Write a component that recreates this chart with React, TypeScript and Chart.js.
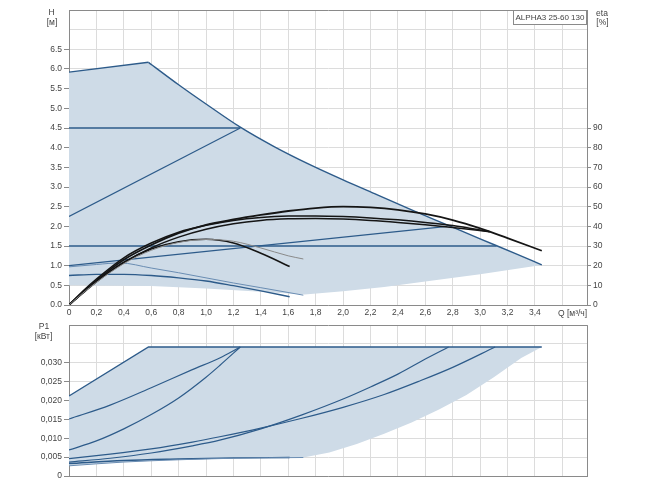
import React, { useEffect, useRef } from 'react';
import { Chart, registerables } from 'chart.js';

Chart.register(...registerables);

type Pt = [number, number];

// ---------- axes ----------
const Q_MAX = 3.78;
const Q_TICKS = [0, 0.2, 0.4, 0.6, 0.8, 1.0, 1.2, 1.4, 1.6, 1.8, 2.0, 2.2, 2.4, 2.6, 2.8, 3.0, 3.2, 3.4, 3.6];
const Q_LABELS = ['0', '0,2', '0,4', '0,6', '0,8', '1,0', '1,2', '1,4', '1,6', '1,8', '2,0', '2,2', '2,4', '2,6', '2,8', '3,0', '3,2', '3,4', ''];
const H_TICKS = [0, 0.5, 1, 1.5, 2, 2.5, 3, 3.5, 4, 4.5, 5, 5.5, 6, 6.5, 7, 7.5];
const H_LABELS = ['0.0', '0.5', '1.0', '1.5', '2.0', '2.5', '3.0', '3.5', '4.0', '4.5', '5.0', '5.5', '6.0', '6.5', '', ''];
const ETA_TICKS = [0, 10, 20, 30, 40, 50, 60, 70, 80, 90];
const ETA_LABELS = ['0', '10', '20', '30', '40', '50', '60', '70', '80', '90'];
const P_TICKS = [0, 0.005, 0.01, 0.015, 0.02, 0.025, 0.03, 0.035, 0.04];
const P_LABELS = ['0', '0,005', '0,010', '0,015', '0,020', '0,025', '0,030', '', ''];

// ---------- H(Q) panel ----------
const hAreaTop: Pt[] = [[0, 5.92], [0.58, 6.17], [0.8, 5.6], [1.0, 5.11], [1.25, 4.52], [1.5, 4.02], [1.75, 3.58], [2.0, 3.18], [2.25, 2.8], [2.5, 2.42], [2.75, 2.05], [3.0, 1.68], [3.25, 1.32], [3.45, 1.02]];
const hAreaBottom: Pt[] = [[0, 0.5], [0.6, 0.48], [1.0, 0.42], [1.4, 0.34], [1.72, 0.27], [2.0, 0.35], [2.3, 0.46], [2.6, 0.6], [3.0, 0.78], [3.45, 1.02]];
const hMaxRise: Pt[] = [[0, 5.92], [0.58, 6.17]];
const hMaxFall: Pt[] = [[0.58, 6.17], [0.8, 5.6], [1.0, 5.11], [1.25, 4.52], [1.5, 4.02], [1.75, 3.58], [2.0, 3.18], [2.25, 2.8], [2.5, 2.42], [2.75, 2.05], [3.0, 1.68], [3.25, 1.32], [3.45, 1.02]];
const hConstHigh: Pt[] = [[0, 4.5], [1.25, 4.5]];
const hPropHigh: Pt[] = [[0, 2.25], [1.25, 4.5]];
const hConstLow: Pt[] = [[0, 1.5], [3.12, 1.5]];
const hPropLow: Pt[] = [[0, 1.0], [2.76, 2.0]];
const hMinThin: Pt[] = [[0, 0.97], [0.2, 1.03], [0.37, 1.07], [0.6, 0.94], [0.8, 0.82], [1.0, 0.69], [1.2, 0.56], [1.4, 0.44], [1.71, 0.25]];
const hMinThick: Pt[] = [[0, 0.75], [0.2, 0.78], [0.4, 0.78], [0.6, 0.75], [0.8, 0.69], [1.0, 0.61], [1.2, 0.49], [1.4, 0.36], [1.61, 0.21]];

// efficiency curves, eta [%]
const eta1: Pt[] = [[0, 0], [0.1, 6.5], [0.2, 12.5], [0.4, 23], [0.6, 30.5], [0.8, 36.5], [1.0, 40.8], [1.2, 43.5], [1.4, 45.8], [1.6, 47.8], [1.8, 49.3], [2.0, 50], [2.2, 49.6], [2.4, 48.4], [2.6, 46.3], [2.8, 43.2], [3.0, 39], [3.2, 34], [3.45, 27.6]];
const eta2: Pt[] = [[0, 0], [0.1, 7], [0.2, 13.2], [0.4, 24], [0.6, 31.5], [0.8, 37], [1.0, 40.5], [1.2, 43], [1.4, 44.5], [1.6, 45.2], [1.8, 45.3], [2.0, 45], [2.2, 44.3], [2.4, 43.3], [2.6, 42], [2.8, 40.4], [3.07, 37.3]];
const eta3: Pt[] = [[0, 0], [0.1, 6], [0.2, 11.8], [0.4, 21.5], [0.6, 29], [0.8, 34.5], [1.0, 38.5], [1.2, 41.3], [1.4, 43], [1.6, 43.8], [1.8, 44], [2.0, 43.7], [2.2, 43], [2.4, 42], [2.6, 40.8], [2.8, 39.4], [3.07, 37.3]];
const eta4: Pt[] = [[0, 0], [0.1, 6.2], [0.2, 12], [0.4, 21.8], [0.6, 28.5], [0.8, 32.2], [1.0, 33.4], [1.2, 31.5], [1.4, 26.3], [1.61, 19.6]];
const eta5: Pt[] = [[0, 0], [0.1, 6], [0.2, 11.5], [0.4, 21], [0.6, 27.8], [0.8, 31.8], [1.0, 33.3], [1.2, 32.4], [1.4, 29], [1.6, 25], [1.71, 23.4]];

// ---------- P1(Q) panel ----------
const pAreaTop: Pt[] = [[0, 0.0212], [0.58, 0.0342], [3.45, 0.0342]];
const pAreaBottom: Pt[] = [[0, 0.0027], [0.4, 0.0037], [0.8, 0.0043], [1.2, 0.0047], [1.71, 0.0049], [1.9, 0.0062], [2.1, 0.0085], [2.3, 0.0112], [2.5, 0.0142], [2.7, 0.0176], [2.9, 0.0215], [3.1, 0.0262], [3.3, 0.0313], [3.45, 0.0342]];
const pMax: Pt[] = [[0, 0.0212], [0.58, 0.0342], [3.45, 0.0342]];
const pPropHigh: Pt[] = [[0, 0.0151], [0.3, 0.0188], [0.6, 0.0234], [0.9, 0.0282], [1.1, 0.0313], [1.25, 0.0342]];
const pConstHigh: Pt[] = [[0, 0.0069], [0.2, 0.0093], [0.4, 0.0125], [0.6, 0.0163], [0.8, 0.0207], [1.0, 0.0262], [1.1, 0.0293], [1.25, 0.0342]];
const pConstLow: Pt[] = [[0, 0.0037], [0.3, 0.0047], [0.6, 0.0061], [0.9, 0.008], [1.1, 0.0095], [1.4, 0.0125], [1.7, 0.0162], [2.0, 0.0204], [2.2, 0.0236], [2.4, 0.027], [2.6, 0.031], [2.77, 0.0342]];
const pPropLow: Pt[] = [[0, 0.0046], [0.3, 0.0058], [0.6, 0.0072], [0.9, 0.009], [1.1, 0.0104], [1.4, 0.0127], [1.7, 0.0153], [2.0, 0.0182], [2.3, 0.0216], [2.56, 0.0252], [2.8, 0.0288], [3.11, 0.0342]];
const pMinThick: Pt[] = [[0, 0.0033], [0.4, 0.0041], [0.8, 0.0045], [1.2, 0.0048], [1.61, 0.0049]];
const pMinThin: Pt[] = [[0, 0.0027], [0.4, 0.0037], [0.8, 0.0043], [1.2, 0.0047], [1.71, 0.0049]];

const MODEL = 'ALPHA3 25-60 130';

// ---------- styles ----------
const FONT = { family: '"Liberation Sans", Arial, sans-serif', size: 8.5 };
const TXT = '#444';
const GRID = '#dcdcdc';
const AXIS = '#8a8a8a';
const FILL = '#cedbe7';
const BLUE = '#2d5b8a';
const BLUE_LIGHT = '#6a8db3';
const BLACK = '#151515';
const GREY = '#8a8a8a';

const xy = (a: Pt[]) => a.map(([x, y]) => ({ x, y }));

function line(data: Pt[], color: string, width: number, opts: any = {}) {
  return {
    data: xy(data),
    borderColor: color,
    borderWidth: width,
    backgroundColor: color,
    pointRadius: 0,
    fill: false,
    tension: 0,
    ...opts,
  };
}
const smooth = { cubicInterpolationMode: 'monotone' };

const textPlugin = (draw: (ctx: CanvasRenderingContext2D, a: any) => void) => ({
  id: 'texts',
  afterDraw(chart: any) {
    const ctx = chart.ctx as CanvasRenderingContext2D;
    ctx.save();
    ctx.font = `${FONT.size}px ${FONT.family}`;
    ctx.fillStyle = TXT;
    ctx.textBaseline = 'middle';
    draw(ctx, chart.chartArea);
    ctx.restore();
  },
});

function xScale(showLabels: boolean) {
  return {
    type: 'linear',
    min: 0,
    max: Q_MAX,
    afterBuildTicks: (s: any) => {
      s.ticks = [...Q_TICKS, Q_MAX].map((v) => ({ value: v }));
    },
    ticks: {
      display: showLabels,
      autoSkip: false,
      maxRotation: 0,
      minRotation: 0,
      padding: 3,
      color: TXT,
      font: FONT,
      callback: (_v: any, i: number) => Q_LABELS[i] ?? '',
    },
    grid: {
      drawTicks: false,
      color: (c: any) => (c.tick && c.tick.value >= Q_MAX - 1e-6 ? AXIS : GRID),
    },
    border: { color: AXIS },
    afterFit: (s: any) => {
      s.height = showLabels ? 13 : 0;
    },
  };
}

export default function App() {
  const topRef = useRef<HTMLCanvasElement>(null);
  const botRef = useRef<HTMLCanvasElement>(null);

  useEffect(() => {
    const top = new Chart(topRef.current!, {
      type: 'line',
      data: {
        datasets: [
          line(hAreaBottom, 'rgba(0,0,0,0)', 0, { order: 5 }),
          line(hAreaTop, 'rgba(0,0,0,0)', 0, { order: 5, fill: 0, backgroundColor: FILL }),
          line(hMaxRise, BLUE, 1.4, { order: 2 }),
          line(hMaxFall, BLUE, 1.4, { order: 2, ...smooth }),
          line(hConstHigh, BLUE, 1.4, { order: 2 }),
          line(hPropHigh, BLUE, 1.2, { order: 2 }),
          line(hConstLow, BLUE, 1.4, { order: 2 }),
          line(hPropLow, BLUE, 1.2, { order: 2 }),
          line(hMinThin, BLUE_LIGHT, 1, { order: 2, ...smooth }),
          line(hMinThick, BLUE, 1.3, { order: 2, ...smooth }),
          line(eta5, GREY, 1, { order: 1, yAxisID: 'eta', ...smooth }),
          line(eta1, BLACK, 1.8, { order: 1, yAxisID: 'eta', ...smooth }),
          line(eta2, BLACK, 1.5, { order: 1, yAxisID: 'eta', ...smooth }),
          line(eta3, BLACK, 1.5, { order: 1, yAxisID: 'eta', ...smooth }),
          line(eta4, BLACK, 1.6, { order: 1, yAxisID: 'eta', ...smooth }),
        ],
      },
      options: {
        responsive: false,
        animation: false,
        devicePixelRatio: 1,
        layout: { padding: { top: 10, bottom: 0, left: 0, right: 0 } },
        plugins: {
          legend: { display: false },
          tooltip: { enabled: false },
          filler: { propagate: false, drawTime: 'beforeDatasetsDraw' },
        },
        scales: {
          x: xScale(true),
          y: {
            type: 'linear',
            position: 'left',
            min: 0,
            max: 7.5,
            afterBuildTicks: (s: any) => {
              s.ticks = H_TICKS.map((v) => ({ value: v }));
            },
            ticks: {
              autoSkip: false,
              padding: 2,
              color: TXT,
              font: FONT,
              callback: (_v: any, i: number) => H_LABELS[i] ?? '',
            },
            grid: {
              tickLength: 5,
              color: (c: any) => (c.tick && c.tick.value >= 7.5 ? AXIS : GRID),
              tickColor: (c: any) => (c.tick && c.tick.value > 6.5 ? 'rgba(0,0,0,0)' : AXIS),
            },
            border: { color: AXIS },
            afterFit: (s: any) => {
              s.width = 69;
            },
          },
          eta: {
            type: 'linear',
            position: 'right',
            min: 0,
            max: 150,
            afterBuildTicks: (s: any) => {
              s.ticks = ETA_TICKS.map((v) => ({ value: v }));
            },
            ticks: {
              autoSkip: false,
              padding: 2,
              color: TXT,
              font: FONT,
              callback: (_v: any, i: number) => ETA_LABELS[i] ?? '',
            },
            grid: { drawOnChartArea: false, tickLength: 4, color: AXIS },
            border: { color: AXIS },
            afterFit: (s: any) => {
              s.width = 63;
            },
          },
        },
      } as any,
      plugins: [
        textPlugin((ctx, a) => {
          ctx.textAlign = 'center';
          ctx.fillText('H', a.left - 17.5, a.top + 3);
          ctx.fillText('[м]', a.left - 17, a.top + 13);
          ctx.fillText('eta', a.right + 15, a.top + 3.5);
          ctx.fillText('[%]', a.right + 15.5, a.top + 13);
          ctx.textAlign = 'left';
          ctx.fillText('Q [м³/ч]', a.right - 29, a.bottom + 8.5);
          // model box
          const w = 74;
          const h = 14;
          ctx.fillStyle = '#ffffff';
          ctx.fillRect(a.right - w, a.top, w, h);
          ctx.strokeStyle = AXIS;
          ctx.lineWidth = 1;
          ctx.strokeRect(a.right - w + 0.5, a.top + 0.5, w - 1, h);
          ctx.fillStyle = TXT;
          ctx.font = `8px ${FONT.family}`;
          const tw = ctx.measureText(MODEL).width;
          ctx.textAlign = 'center';
          ctx.fillText(MODEL, a.right - w / 2, a.top + 7.5, w - 4);
          void tw;
        }),
      ],
    });

    const bot = new Chart(botRef.current!, {
      type: 'line',
      data: {
        datasets: [
          line(pAreaBottom, 'rgba(0,0,0,0)', 0, { order: 5 }),
          line(pAreaTop, 'rgba(0,0,0,0)', 0, { order: 5, fill: 0, backgroundColor: FILL }),
          line(pMax, BLUE, 1.4, { order: 2 }),
          line(pPropHigh, BLUE, 1.2, { order: 2, ...smooth }),
          line(pConstHigh, BLUE, 1.2, { order: 2, ...smooth }),
          line(pConstLow, BLUE, 1.2, { order: 2, ...smooth }),
          line(pPropLow, BLUE, 1.2, { order: 2, ...smooth }),
          line(pMinThin, BLUE_LIGHT, 1, { order: 2, ...smooth }),
          line(pMinThick, BLUE, 1.4, { order: 2, ...smooth }),
        ],
      },
      options: {
        responsive: false,
        animation: false,
        devicePixelRatio: 1,
        layout: { padding: { top: 3, bottom: 10, left: 0, right: 63 } },
        plugins: {
          legend: { display: false },
          tooltip: { enabled: false },
          filler: { propagate: false, drawTime: 'beforeDatasetsDraw' },
        },
        scales: {
          x: xScale(false),
          y: {
            type: 'linear',
            position: 'left',
            min: 0,
            max: 0.04,
            afterBuildTicks: (s: any) => {
              s.ticks = P_TICKS.map((v) => ({ value: v }));
            },
            ticks: {
              autoSkip: false,
              padding: 2,
              color: TXT,
              font: FONT,
              callback: (_v: any, i: number) => P_LABELS[i] ?? '',
            },
            grid: {
              tickLength: 5,
              color: (c: any) => (c.tick && c.tick.value >= 0.04 - 1e-9 ? AXIS : GRID),
              tickColor: (c: any) => (c.tick && c.tick.value > 0.031 ? 'rgba(0,0,0,0)' : AXIS),
            },
            border: { color: AXIS },
            afterFit: (s: any) => {
              s.width = 69;
            },
          },
        },
      } as any,
      plugins: [
        textPlugin((ctx, a) => {
          ctx.textAlign = 'center';
          ctx.fillText('P1', a.left - 25, a.top + 2);
          ctx.fillText('[кВт]', a.left - 25.5, a.top + 12);
        }),
      ],
    });

    return () => {
      top.destroy();
      bot.destroy();
    };
  }, []);

  return (
    <div style={{ position: 'absolute', left: 0, top: 0, width: 650, height: 486, background: '#fff' }}>
      <canvas ref={topRef} width={650} height={318} style={{ position: 'absolute', left: 0, top: 0 }} />
      <canvas ref={botRef} width={650} height={168} style={{ position: 'absolute', left: 0, top: 318 }} />
    </div>
  );
}
